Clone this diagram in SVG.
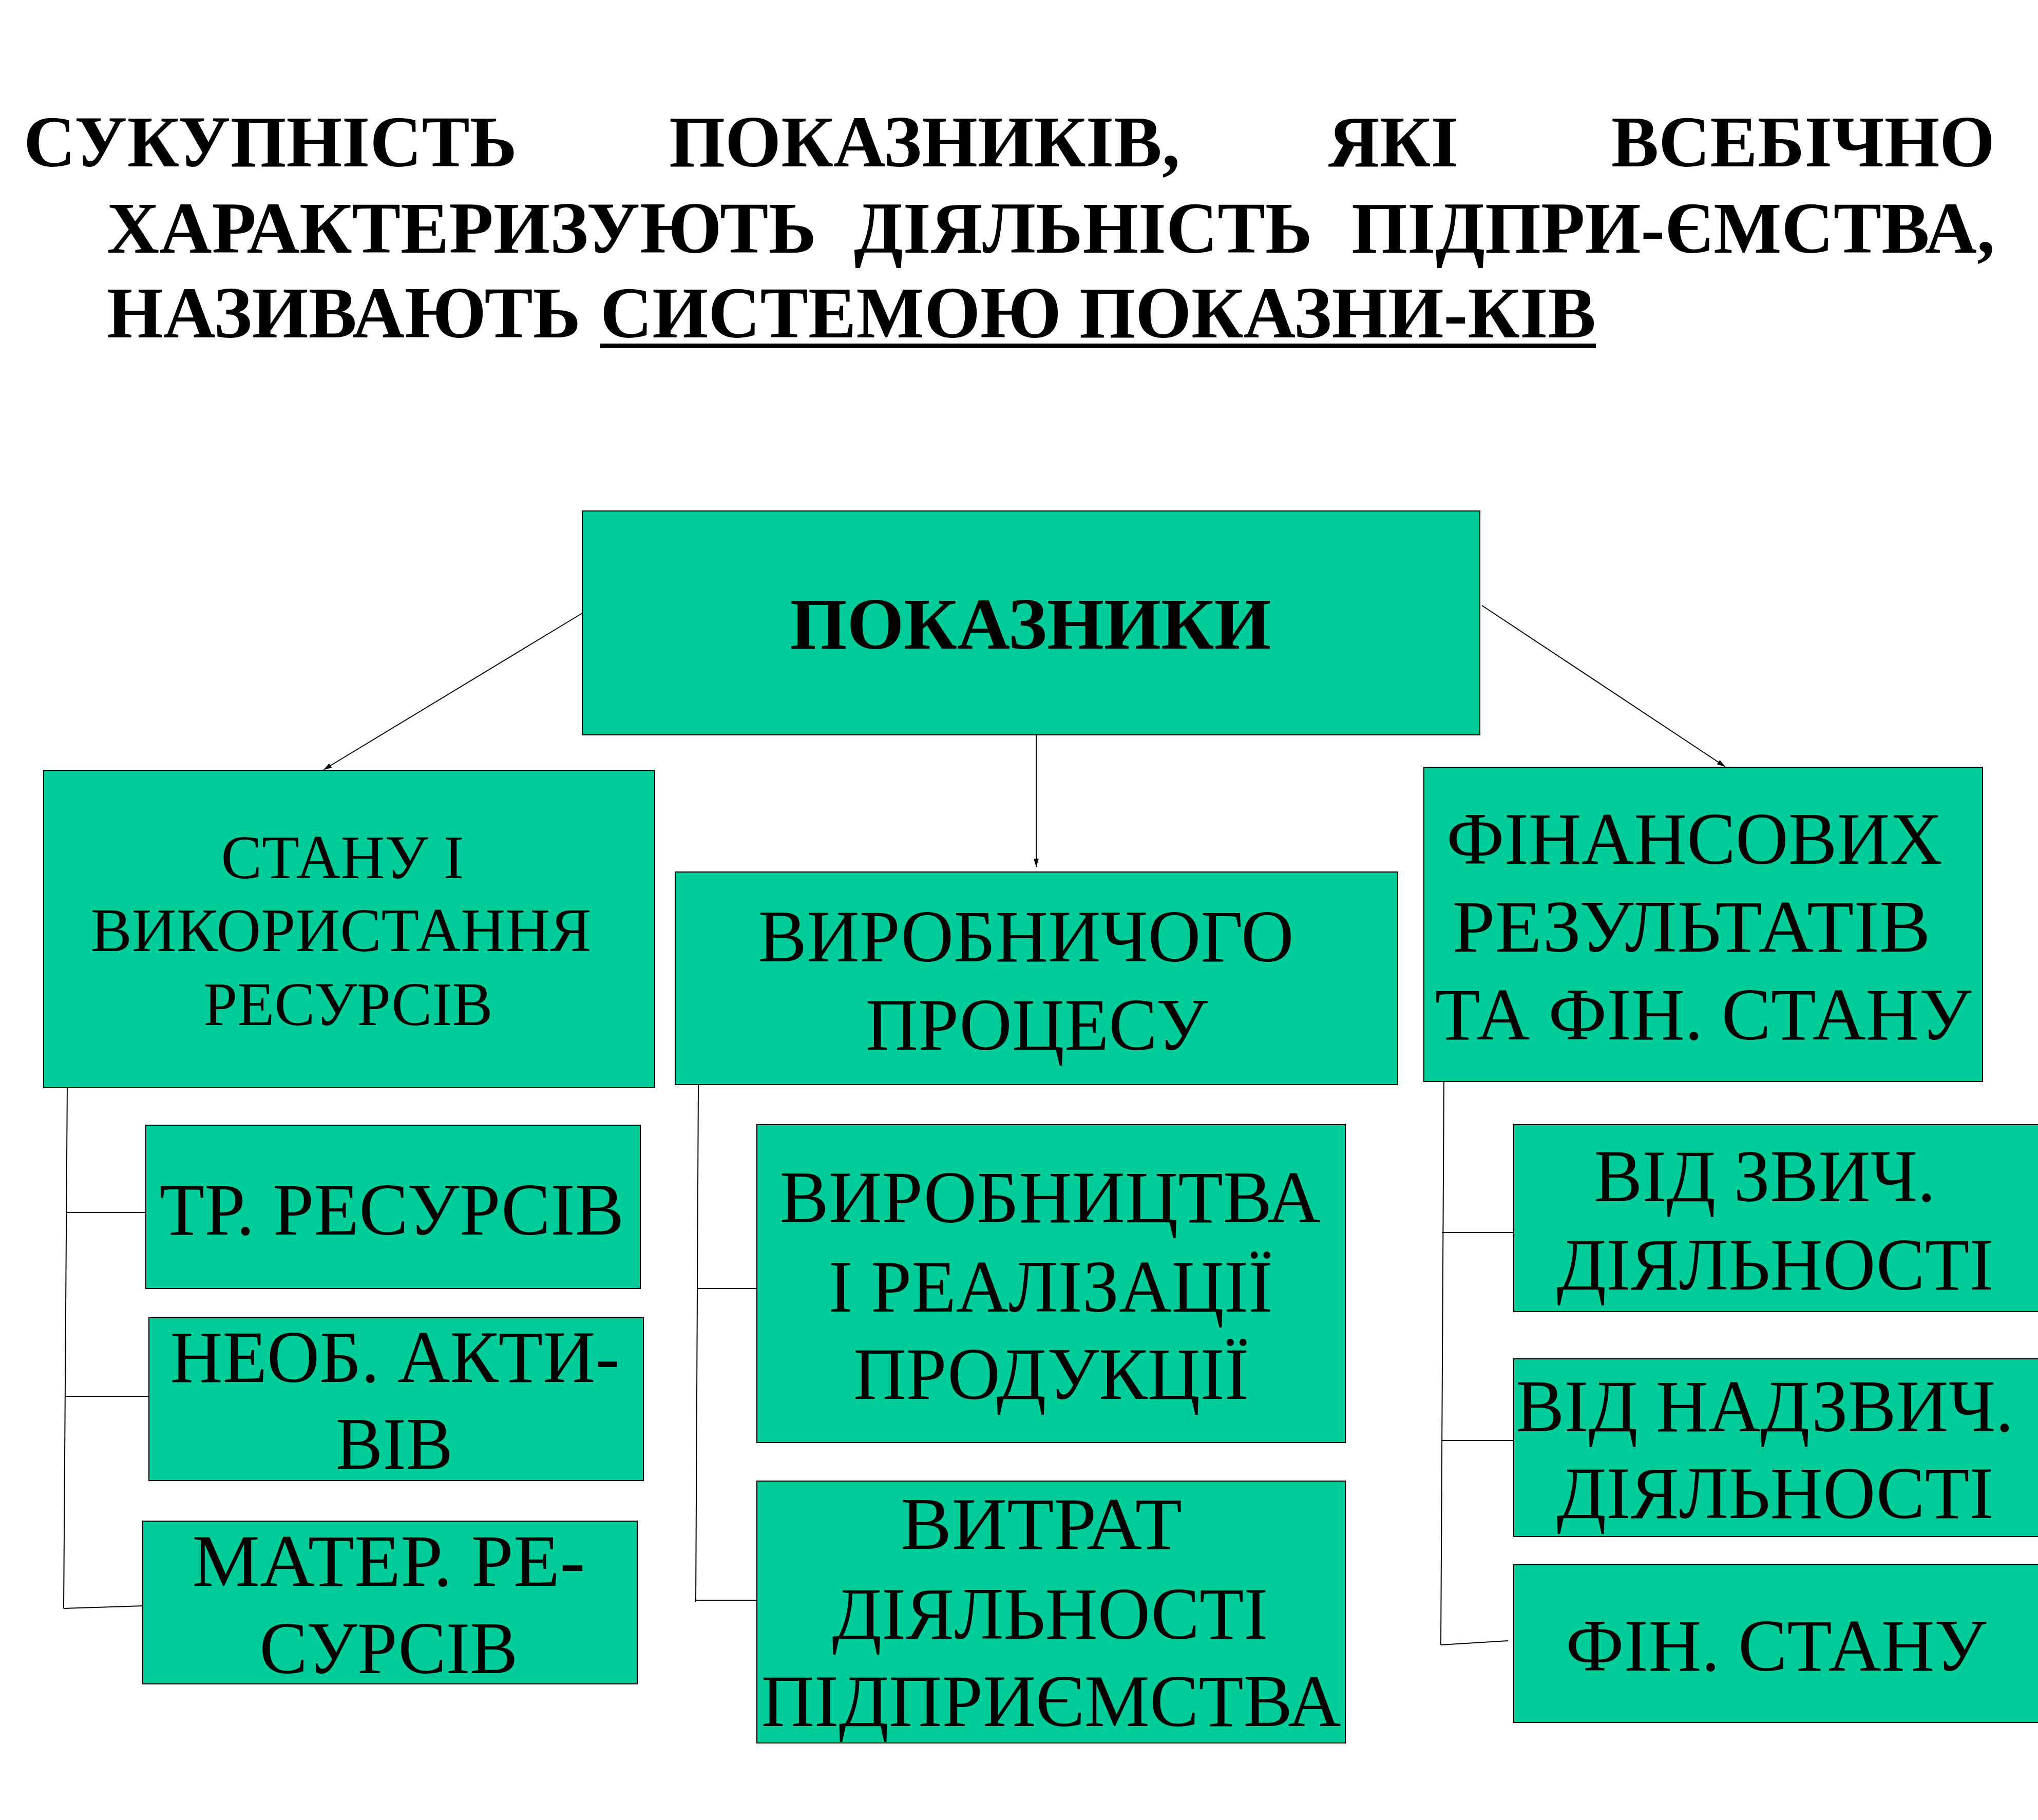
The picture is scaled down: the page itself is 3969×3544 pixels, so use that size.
<svg xmlns="http://www.w3.org/2000/svg" width="3969" height="3544" viewBox="0 0 3969 3544">
<style>
.title{font-family:"Liberation Serif","Times New Roman",serif;font-weight:bold;font-size:142px;fill:#000}
.box{fill:#00CC99;stroke:#000;stroke-width:2}
.lbl{font-family:"Liberation Serif","Times New Roman",serif;font-size:144px;fill:#000;text-anchor:middle}
.sm{font-size:120px}
.lblb{font-family:"Liberation Serif","Times New Roman",serif;font-size:142px;font-weight:bold;fill:#000;text-anchor:middle}
.con{stroke:#000;stroke-width:2;fill:none}
</style>
<defs>
<marker id="arr" markerUnits="userSpaceOnUse" markerWidth="16" markerHeight="16" viewBox="0 0 16 16" refX="16" refY="8" orient="auto">
<path d="M0,3 L16,8 L0,13 Z" fill="#000"/>
</marker>
</defs>
<rect width="3969" height="3544" fill="#fff"/>
<g id="title">
<text class="title" x="46" y="324" textLength="961" lengthAdjust="spacingAndGlyphs">СУКУПНІСТЬ</text>
<text class="title" x="1303" y="324" textLength="995" lengthAdjust="spacingAndGlyphs">ПОКАЗНИКІВ,</text>
<text class="title" x="2587" y="324" textLength="253" lengthAdjust="spacingAndGlyphs">ЯКІ</text>
<text class="title" x="3138" y="324" textLength="747" lengthAdjust="spacingAndGlyphs">ВСЕБІЧНО</text>
<text class="title" x="208" y="492" textLength="1382" lengthAdjust="spacingAndGlyphs">ХАРАКТЕРИЗУЮТЬ</text>
<text class="title" x="1663" y="492" textLength="893" lengthAdjust="spacingAndGlyphs">ДІЯЛЬНІСТЬ</text>
<text class="title" x="2632" y="492" textLength="1253" lengthAdjust="spacingAndGlyphs">ПІДПРИ-ЄМСТВА,</text>
<text class="title" x="208" y="657" textLength="923" lengthAdjust="spacingAndGlyphs">НАЗИВАЮТЬ</text>
<text class="title" x="1169" y="657" textLength="1939" lengthAdjust="spacingAndGlyphs">СИСТЕМОЮ ПОКАЗНИ-КІВ</text>
<rect x="1169" y="669" width="1939" height="9" fill="#000"/>
</g>
<g id="connectors">
<line class="con" x1="1134" y1="1194" x2="630" y2="1499" marker-end="url(#arr)"/>
<line class="con" x1="2018" y1="1425" x2="2018" y2="1688" marker-end="url(#arr)"/>
<line class="con" x1="2886" y1="1179" x2="3360" y2="1493" marker-end="url(#arr)"/>
<polyline class="con" points="131,2112 124,3132"/>
<line class="con" x1="129" y1="2361" x2="284" y2="2361"/>
<line class="con" x1="126" y1="2719" x2="290" y2="2719"/>
<line class="con" x1="124" y1="3132" x2="281" y2="3127"/>
<polyline class="con" points="1360,2113 1355,3120"/>
<line class="con" x1="1357" y1="2509" x2="1474" y2="2509"/>
<line class="con" x1="1355" y1="3116" x2="1479" y2="3116"/>
<polyline class="con" points="2812,2100 2806,3203"/>
<line class="con" x1="2808" y1="2400" x2="2948" y2="2400"/>
<line class="con" x1="2808" y1="2805" x2="2948" y2="2805"/>
<line class="con" x1="2806" y1="3203" x2="2937" y2="3195"/>
</g>
<g id="n-pokaznyky">
<rect class="box" x="1134" y="995" width="1748" height="436"/>
<text class="lblb" x="2007" y="1263" textLength="937" lengthAdjust="spacingAndGlyphs">ПОКАЗНИКИ</text>
</g>
<g id="n-stanu">
<rect class="box" x="85" y="1500" width="1190" height="618"/>
<text class="lbl sm" x="667" y="1710" textLength="473" lengthAdjust="spacingAndGlyphs">СТАНУ І</text>
<text class="lbl sm" x="664" y="1852" textLength="975" lengthAdjust="spacingAndGlyphs">ВИКОРИСТАННЯ</text>
<text class="lbl sm" x="678" y="1996" textLength="563" lengthAdjust="spacingAndGlyphs">РЕСУРСІВ</text>
</g>
<g id="n-vyrob">
<rect class="box" x="1315" y="1698" width="1407" height="414"/>
<text class="lbl" x="1998" y="1872" textLength="1043" lengthAdjust="spacingAndGlyphs">ВИРОБНИЧОГО</text>
<text class="lbl" x="2019" y="2044" textLength="666" lengthAdjust="spacingAndGlyphs">ПРОЦЕСУ</text>
</g>
<g id="n-fin">
<rect class="box" x="2773" y="1494" width="1088" height="612"/>
<text class="lbl" x="3300" y="1682" textLength="966" lengthAdjust="spacingAndGlyphs">ФІНАНСОВИХ</text>
<text class="lbl" x="3294" y="1853" textLength="931" lengthAdjust="spacingAndGlyphs">РЕЗУЛЬТАТІВ</text>
<text class="lbl" x="3317" y="2024" textLength="1045" lengthAdjust="spacingAndGlyphs">ТА ФІН. СТАНУ</text>
</g>
<g id="n-tr">
<rect class="box" x="284" y="2191" width="963" height="318"/>
<text class="lbl" x="763" y="2404" textLength="905" lengthAdjust="spacingAndGlyphs">ТР. РЕСУРСІВ</text>
</g>
<g id="n-neob">
<rect class="box" x="290" y="2566" width="963" height="317"/>
<text class="lbl" x="769" y="2691" textLength="875" lengthAdjust="spacingAndGlyphs">НЕОБ. АКТИ-</text>
<text class="lbl" x="768" y="2860" textLength="228" lengthAdjust="spacingAndGlyphs">ВІВ</text>
</g>
<g id="n-mater">
<rect class="box" x="278" y="2962" width="963" height="317"/>
<text class="lbl" x="757" y="3088" textLength="765" lengthAdjust="spacingAndGlyphs">МАТЕР. РЕ-</text>
<text class="lbl" x="757" y="3258" textLength="503" lengthAdjust="spacingAndGlyphs">СУРСІВ</text>
</g>
<g id="n-vyrobn">
<rect class="box" x="1474" y="2190" width="1146" height="619"/>
<text class="lbl" x="2045" y="2380" textLength="1053" lengthAdjust="spacingAndGlyphs">ВИРОБНИЦТВА</text>
<text class="lbl" x="2046" y="2554" textLength="865" lengthAdjust="spacingAndGlyphs">І РЕАЛІЗАЦІЇ</text>
<text class="lbl" x="2047" y="2724" textLength="770" lengthAdjust="spacingAndGlyphs">ПРОДУКЦІЇ</text>
</g>
<g id="n-vytrat">
<rect class="box" x="1474" y="2884" width="1146" height="510"/>
<text class="lbl" x="2028" y="3016" textLength="548" lengthAdjust="spacingAndGlyphs">ВИТРАТ</text>
<text class="lbl" x="2045" y="3191" textLength="849" lengthAdjust="spacingAndGlyphs">ДІЯЛЬНОСТІ</text>
<text class="lbl" x="2047" y="3361" textLength="1129" lengthAdjust="spacingAndGlyphs">ПІДПРИЄМСТВА</text>
</g>
<g id="n-zvych">
<rect class="box" x="2948" y="2190" width="1030" height="364"/>
<text class="lbl" x="3437" y="2339" textLength="665" lengthAdjust="spacingAndGlyphs">ВІД ЗВИЧ.</text>
<text class="lbl" x="3457" y="2511" textLength="851" lengthAdjust="spacingAndGlyphs">ДІЯЛЬНОСТІ</text>
</g>
<g id="n-nadzvych">
<rect class="box" x="2948" y="2646" width="1030" height="346"/>
<text class="lbl" x="3437" y="2787" textLength="969" lengthAdjust="spacingAndGlyphs">ВІД НАДЗВИЧ.</text>
<text class="lbl" x="3457" y="2956" textLength="851" lengthAdjust="spacingAndGlyphs">ДІЯЛЬНОСТІ</text>
</g>
<g id="n-finstan">
<rect class="box" x="2948" y="3047" width="1030" height="307"/>
<text class="lbl" x="3459" y="3253" textLength="819" lengthAdjust="spacingAndGlyphs">ФІН. СТАНУ</text>
</g>
</svg>
